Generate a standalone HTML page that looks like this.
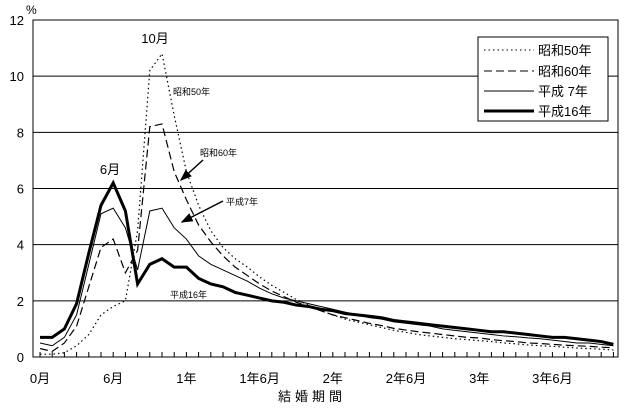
<!DOCTYPE html>
<html><head><meta charset="utf-8"><style>
html,body{margin:0;padding:0;background:#fff;}
svg text{font-family:"Liberation Sans","Noto Sans CJK JP",sans-serif;fill:#000;}
</style></head><body>
<svg width="625" height="407" viewBox="0 0 625 407" xmlns="http://www.w3.org/2000/svg">
<defs><marker id="ah" markerWidth="8" markerHeight="8" refX="7" refY="4" orient="auto"><path d="M0,1 L8,4 L0,7 Z" fill="#000"/></marker></defs>
<g id="grid"></g><g id="series"></g><g id="ticks"></g>
<rect x="33" y="20" width="585" height="337" fill="none" stroke="#000" stroke-width="1"/>
<text x="26" y="14" font-size="12">%</text>
<text x="155" y="43" font-size="13" text-anchor="middle">10月</text>
<text x="110" y="174" font-size="13" text-anchor="middle">6月</text>
<text x="173" y="95" font-size="9">昭和50年</text>
<text x="200" y="156" font-size="9">昭和60年</text>
<line x1="203" y1="160" x2="181" y2="180" stroke="#000" stroke-width="1.5" marker-end="url(#ah)"/>
<text x="226" y="205" font-size="9">平成7年</text>
<line x1="223" y1="201" x2="182" y2="222" stroke="#000" stroke-width="1.5" marker-end="url(#ah)"/>
<text x="170" y="298" font-size="9">平成16年</text>
<g>
<rect x="478" y="37" width="130" height="84" fill="#fff" stroke="#000"/>
<line x1="484" y1="50" x2="534" y2="50" stroke="#000" stroke-dasharray="1.5,3"/><text x="538" y="55" font-size="13">昭和50年</text>
<line x1="484" y1="71" x2="534" y2="71" stroke="#000" stroke-dasharray="8,4"/><text x="538" y="76" font-size="13">昭和60年</text>
<line x1="484" y1="91" x2="534" y2="91" stroke="#000" stroke-width="1"/><text x="538" y="96" font-size="13">平成 7年</text>
<line x1="484" y1="111" x2="534" y2="111" stroke="#000" stroke-width="3"/><text x="538" y="116" font-size="13">平成16年</text>
</g>
<text x="312" y="401" font-size="13" text-anchor="middle" letter-spacing="4">結婚期間</text>
</svg>
<script>
const yTicks=[0,2,4,6,8,10,12];
const xLabels=["0月","6月","1年","1年6月","2年","2年6月","3年","3年6月"];
const s50=[0.1,0.1,0.15,0.4,0.8,1.5,1.8,2.0,4.5,10.2,10.8,8.6,6.6,5.4,4.5,3.9,3.5,3.2,2.85,2.55,2.3,2.05,1.85,1.65,1.5,1.35,1.25,1.15,1.05,0.95,0.88,0.8,0.75,0.7,0.65,0.62,0.58,0.55,0.5,0.47,0.43,0.4,0.38,0.35,0.32,0.3,0.28,0.25];
const s60=[0.3,0.2,0.5,1.1,2.5,3.9,4.2,3.0,3.8,8.2,8.3,6.6,5.6,4.7,4.1,3.6,3.2,2.9,2.6,2.35,2.15,1.95,1.8,1.65,1.5,1.4,1.3,1.2,1.12,1.02,0.96,0.9,0.85,0.8,0.75,0.7,0.68,0.62,0.58,0.55,0.5,0.48,0.45,0.42,0.4,0.38,0.35,0.33];
const h7=[0.5,0.4,0.7,1.5,3.3,5.1,5.3,4.6,3.1,5.2,5.3,4.6,4.2,3.6,3.3,3.1,2.9,2.7,2.45,2.25,2.1,2.0,1.9,1.8,1.7,1.6,1.5,1.4,1.35,1.25,1.2,1.15,1.1,1.0,0.95,0.9,0.85,0.8,0.75,0.72,0.68,0.65,0.6,0.55,0.5,0.5,0.45,0.4];
const h16=[0.7,0.7,1.0,1.9,3.7,5.4,6.2,5.2,2.6,3.3,3.5,3.2,3.2,2.8,2.6,2.5,2.3,2.2,2.1,2.0,1.95,1.85,1.8,1.7,1.65,1.55,1.5,1.45,1.4,1.3,1.25,1.2,1.15,1.1,1.05,1.0,0.95,0.9,0.9,0.85,0.8,0.75,0.7,0.7,0.65,0.6,0.55,0.45];
const NS="http://www.w3.org/2000/svg";
const X=m=>40+12.2*m;
const Y=v=>357-v*28.083;
const grid=document.getElementById('grid'),ser=document.getElementById('series'),tk=document.getElementById('ticks');
yTicks.forEach(v=>{
 if(v>0&&v<12){const l=document.createElementNS(NS,'line');
 l.setAttribute('x1',33);l.setAttribute('x2',618);l.setAttribute('y1',Y(v));l.setAttribute('y2',Y(v));l.setAttribute('stroke','#000');
 
 
 grid.appendChild(l);}
 const t=document.createElementNS(NS,'text');
 t.setAttribute('x',24);t.setAttribute('y',Y(v)+5);t.setAttribute('text-anchor','end');t.setAttribute('font-size','13');t.textContent=v;
 
 
 tk.appendChild(t);
});
for(let m=0;m<48;m++){const l=document.createElementNS(NS,'line');
 l.setAttribute('x1',X(m));l.setAttribute('x2',X(m));l.setAttribute('y1',352);l.setAttribute('y2',357);l.setAttribute('stroke','#000');
 
 
 tk.appendChild(l);}
xLabels.forEach((s,i)=>{const t=document.createElementNS(NS,'text');
 t.setAttribute('x',X(i*6));t.setAttribute('y',383);t.setAttribute('text-anchor','middle');t.setAttribute('font-size','13');t.textContent=s;
 
 
 tk.appendChild(t);});
function line(d,w,dash,name){const p=document.createElementNS(NS,'polyline');
 p.setAttribute('points',d.map((v,i)=>X(i)+','+Y(v)).join(' '));
 p.setAttribute('fill','none');p.setAttribute('stroke','#000');p.setAttribute('stroke-width',w);
 if(dash)p.setAttribute('stroke-dasharray',dash);
 
 
 ser.appendChild(p);}
line(s50,1.2,'1.5,3','series-showa50');
line(s60,1.2,'8,4','series-showa60');
line(h7,1,null,'series-heisei7');
line(h16,3,null,'series-heisei16');
</script>
</body></html>
